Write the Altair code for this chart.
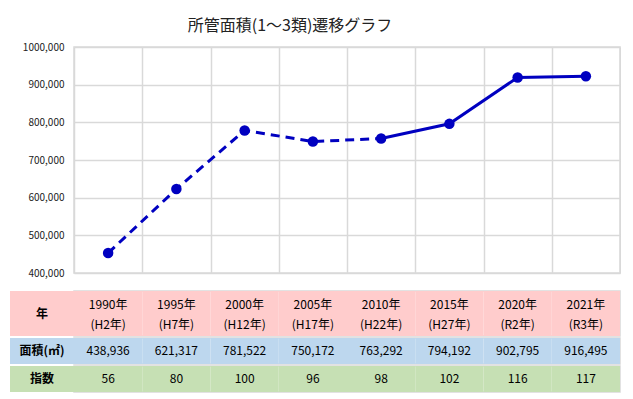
import altair as alt
import pandas as pd

# ---- data ----
years = ["1990", "1995", "2000", "2005", "2010", "2015", "2020", "2021"]
eras = ["H2年", "H7年", "H12年", "H17年", "H22年", "H27年", "R2年", "R3年"]
plot_values = [453000, 623000, 778500, 749000, 757000, 796000, 919000, 922500]
area_values = ["438,936", "621,317", "781,522", "750,172", "763,292", "794,192", "902,795", "916,495"]
index_values = ["56", "80", "100", "96", "98", "102", "116", "117"]
row_labels = ["年", "面積(㎡)", "指数"]
y_ticks = [400000, 500000, 600000, 700000, 800000, 900000, 1000000]
title_text = "所管面積(1～3類)遷移グラフ"

FONT = "Noto Sans CJK JP"
LINE_COLOR = "#0000C0"
GRID = "#D9D9D9"
ROW_COLORS = ["#FFCCCC", "#BDD7EE", "#C6E0B4"]
PLOT_W = 546
LABEL_W = 64

df = pd.DataFrame({"year": years, "value": plot_values, "i": list(range(len(years)))})

base = alt.Chart(df).encode(
    x=alt.X(
        "year:N",
        sort=years,
        scale=alt.Scale(paddingInner=0, paddingOuter=0),
        axis=alt.Axis(
            labels=False, ticks=False, domain=False, title=None, grid=True,
            tickBand="extent", gridColor=GRID, gridWidth=1.5, minExtent=0, maxExtent=0,
        ),
    ),
    y=alt.Y(
        "value:Q",
        scale=alt.Scale(domain=[400000, 1000000], nice=False, zero=False),
        axis=alt.Axis(
            values=y_ticks, title=None, ticks=False, domain=False,
            labelExpr="datum.value == 1000000 ? '1000,000' : format(datum.value, ',')",
            labelPadding=10, labelFontSize=10, labelFont=FONT, labelColor="#222222",
            gridColor=GRID, gridWidth=1.5, minExtent=LABEL_W, maxExtent=LABEL_W,
        ),
    ),
)

dashed = base.transform_filter("datum.i <= 4").mark_line(
    color=LINE_COLOR, strokeWidth=3, strokeDash=[9, 6]
)
solid = base.transform_filter("datum.i >= 4").mark_line(color=LINE_COLOR, strokeWidth=3)
points = base.mark_circle(color=LINE_COLOR, size=110, opacity=1)

plot = alt.layer(dashed, solid, points).properties(
    width=PLOT_W,
    height=226,
    title=alt.TitleParams(
        title_text, font=FONT, fontSize=16, fontWeight="normal", color="#222222",
        dx=-57, offset=8,
    ),
)


def table_row(label, texts, color, height, line_break=False):
    ldf = pd.DataFrame({"col": ["label"], "text": [label]})
    vdf = pd.DataFrame({"col": years, "text": texts})
    lb = alt.Chart(ldf).encode(
        x=alt.X("col:N", scale=alt.Scale(range=[-LABEL_W, 0], paddingInner=0, paddingOuter=0), axis=None)
    )
    vb = alt.Chart(vdf).encode(
        x=alt.X("col:N", sort=years, scale=alt.Scale(paddingInner=0, paddingOuter=0), axis=None)
    )
    lrect = lb.mark_rect(color=color)
    ltext = lb.mark_text(font=FONT, fontSize=12, fontWeight="bold", color="#000000").encode(text="text:N")
    vrect = vb.mark_rect(color=color)
    val_kwargs = dict(font=FONT, fontSize=12, color="#000000")
    if line_break:
        val_kwargs.update(lineBreak="\n", lineHeight=20, dy=-9)
    vtext = vb.mark_text(**val_kwargs).encode(text="text:N")
    return (
        alt.layer(lrect, ltext, vrect, vtext)
        .resolve_scale(x="independent")
        .properties(width=PLOT_W, height=height)
    )


header_texts = [f"{y}年\n({e})" for y, e in zip(years, eras)]
row1 = table_row(row_labels[0], header_texts, ROW_COLORS[0], 45, line_break=True)
row2 = table_row(row_labels[1], area_values, ROW_COLORS[1], 26)
row3 = table_row(row_labels[2], index_values, ROW_COLORS[2], 26)

table = alt.vconcat(row1, row2, row3, spacing=0)

chart = alt.vconcat(plot, table, spacing=11).properties(
    padding={"left": 1, "top": 9, "right": 0, "bottom": 0},
    background="white",
).configure_view(stroke=GRID, strokeWidth=1.5)

chart.save("out.html", embed_options={"renderer": "svg", "actions": False})
